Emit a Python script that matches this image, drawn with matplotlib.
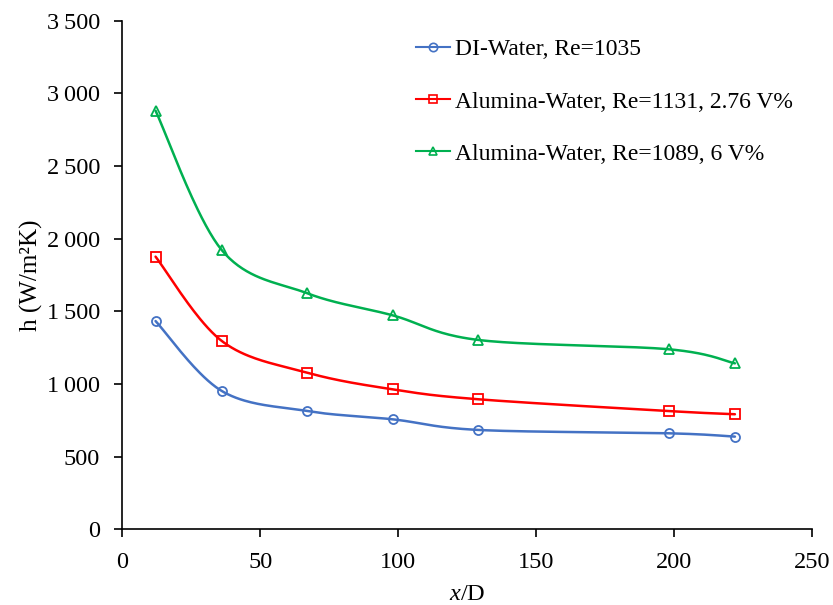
import numpy as np
import matplotlib
matplotlib.use('Agg')
import matplotlib.pyplot as plt
from matplotlib.ticker import FuncFormatter

plt.rcParams['font.family'] = ['Liberation Serif', 'DejaVu Serif']
plt.rcParams['mathtext.fontset'] = 'custom'
plt.rcParams['mathtext.rm'] = 'Liberation Serif'
plt.rcParams['mathtext.it'] = 'Liberation Serif:italic'

# data
x_d = [12, 36, 67, 98, 129, 198, 222]
h_water = [1433, 952, 814, 757, 684, 661, 638]
h_al276 = [1876, 1296, 1078, 963, 895, 814, 792]
h_al6 = [2880, 1921, 1624, 1472, 1303, 1239, 1142]

labels = ['DI-Water, Re=1035',
          'Alumina-Water, Re=1131, 2.76 V%',
          'Alumina-Water, Re=1089, 6 V%']
colors = ['#4472C4', '#FF0000', '#00B050']
markers = ['o', 's', '^']


def smooth(x, y, sx, sy, n=40):
    # excel-like smoothing: catmull-rom bezier in scaled space
    p = np.column_stack([np.asarray(x, float) / sx, np.asarray(y, float) / sy])
    pts = [p[0]]
    for i in range(len(p) - 1):
        p0 = p[i - 1] if i > 0 else p[i]
        p1 = p[i]
        p2 = p[i + 1]
        p3 = p[i + 2] if i + 2 < len(p) else p[i + 1]
        c1 = p1 + (p2 - p0) / 6
        c2 = p2 - (p3 - p1) / 6
        t = np.linspace(0, 1, n)[1:, None]
        seg = ((1 - t) ** 3 * p1 + 3 * (1 - t) ** 2 * t * c1
               + 3 * (1 - t) * t ** 2 * c2 + t ** 3 * p2)
        pts.extend(seg)
    pts = np.array(pts)
    return pts[:, 0] * sx, pts[:, 1] * sy


fig = plt.figure(figsize=(8.33, 6.05), dpi=100)
ax = fig.add_axes([0.147, 0.125, 0.828, 0.841])

for ys, c, m, lab in zip([h_water, h_al276, h_al6], colors, markers, labels):
    sx_, sy_ = smooth(x_d, ys, 250 / 0.828, 3500 / 0.841 * 605 / 833)
    ax.plot(sx_, sy_, color=c, lw=1.8, solid_capstyle='round')
    ax.plot(x_d, ys, linestyle='none', marker=m, ms=6.5, mfc='none',
            mec=c, mew=1.3)
    ax.plot([], [], color=c, lw=1.5, marker=m, ms=6, mfc='none', mec=c,
            mew=1.2, label=lab)

ax.set_xlim(0, 250)
ax.set_ylim(0, 3500)
ax.set_xticks(range(0, 251, 50))
ax.set_yticks(range(0, 3501, 500))
ax.yaxis.set_major_formatter(FuncFormatter(
    lambda v, p: f'{int(v):,}'.replace(',', '\u2009')))

for s in ['top', 'right']:
    ax.spines[s].set_visible(False)
for s in ['left', 'bottom']:
    ax.spines[s].set_linewidth(1.2)
ax.tick_params(direction='out', length=6, width=1.2, labelsize=17.5,
               colors='black')
ax.tick_params(axis='y', pad=10)
ax.tick_params(axis='x', pad=10)

ax.set_xlabel('$x$/D', fontsize=17.5, labelpad=8)
ax.set_ylabel('h (W/m\u00b2K)', fontsize=18, labelpad=3)

ax.legend(loc='upper left', bbox_to_anchor=(0.395, 1.006), frameon=False,
          fontsize=17, labelspacing=1.3, handlelength=1.45,
          handletextpad=0.2)

fig.savefig('out.png', dpi=100)
